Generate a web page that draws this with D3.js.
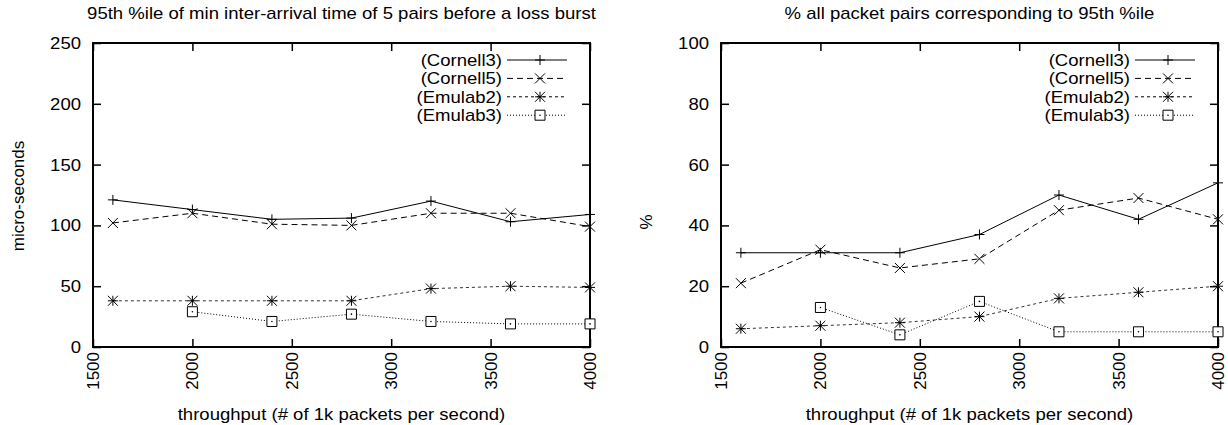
<!DOCTYPE html>
<html><head><meta charset="utf-8">
<script src="https://cdn.jsdelivr.net/npm/d3@7"></script>
<style>
body{margin:0;background:#fff;}
text{font-family:"Liberation Sans",Arial,Helvetica,sans-serif;fill:#000;}
</style></head>
<body><svg id="c" width="1228" height="425"></svg>
<script>
const throughput = [1600, 2000, 2400, 2800, 3200, 3600, 4000];
const seriesNames = ["(Cornell3)", "(Cornell5)", "(Emulab2)", "(Emulab3)"];
// left panel: micro-seconds
const leftCornell3 = [121, 113, 105, 106, 120, 103, 109];
const leftCornell5 = [102, 110, 101, 100, 110, 110, 99];
const leftEmulab2  = [38, 38, 38, 38, 48, 50, 49];
const leftEmulab3  = [null, 29, 21, 27, 21, 19, 19];
// right panel: percent
const rightCornell3 = [31, 31, 31, 37, 50, 42, 54];
const rightCornell5 = [21, 32, 26, 29, 45, 49, 42];
const rightEmulab2  = [6, 7, 8, 10, 16, 18, 20];
const rightEmulab3  = [null, 13, 4, 15, 5, 5, 5];
const xTicks = [1500, 2000, 2500, 3000, 3500, 4000];
const leftYTicks = [0, 50, 100, 150, 200, 250];
const rightYTicks = [0, 20, 40, 60, 80, 100];

const svg = d3.select("#c");
const FS = 17;
const styles = [
  {dash:null, marker:"plus"},
  {dash:"6,4", marker:"cross"},
  {dash:"3,3", marker:"star"},
  {dash:"1,2", marker:"square"}
];

function marker(g, type, x, y) {
  const s = 5;
  const p = d3.path();
  if (type === "plus" || type === "star") {
    p.moveTo(x - s, y); p.lineTo(x + s, y);
    p.moveTo(x, y - s); p.lineTo(x, y + s);
  }
  if (type === "cross" || type === "star") {
    p.moveTo(x - s, y - s); p.lineTo(x + s, y + s);
    p.moveTo(x - s, y + s); p.lineTo(x + s, y - s);
  }
  if (type === "square") {
    p.rect(x - s, y - s, 2 * s, 2 * s);
  }
  g.append("path").attr("d", p.toString()).attr("fill", type === "square" ? "#fff" : "none")
    .attr("stroke", "#000").attr("stroke-width", 1);
  if (type === "square") {
    g.append("circle").attr("cx", x).attr("cy", y).attr("r", 0.8).attr("fill", "#000");
  }
}

function panel(opt) {
  const {x0, x1, y0, y1, yDomain, yTicks, data, title, ylabel, ylabelX, ylabelY} = opt;
  const g = svg.append("g");
  const x = d3.scaleLinear().domain([1500, 4000]).range([x0, x1]);
  const y = d3.scaleLinear().domain(yDomain).range([y1, y0]);
  const tl = 8;

  const bottom = g.append("g").attr("transform", `translate(0,${y1})`)
    .call(d3.axisBottom(x).tickValues(xTicks).tickSize(-tl).tickFormat(""));
  const top = g.append("g").attr("transform", `translate(0,${y0})`)
    .call(d3.axisTop(x).tickValues(xTicks).tickSize(-tl).tickFormat(""));
  const left = g.append("g").attr("transform", `translate(${x0},0)`)
    .call(d3.axisLeft(y).tickValues(yTicks).tickSize(-tl).tickPadding(12));
  const right = g.append("g").attr("transform", `translate(${x1},0)`)
    .call(d3.axisRight(y).tickValues(yTicks).tickSize(-tl).tickFormat(""));
  [bottom, top, left, right].forEach(a => {
    a.select(".domain").remove();
    a.selectAll("line").attr("stroke", "#000").attr("stroke-width", 1.5);
  });
  left.selectAll("text").attr("font-size", FS).attr("font-family", "Liberation Sans, Arial, sans-serif")
    .attr("fill", "#000").classed("hz", true);
  g.selectAll(".xl").data(xTicks).enter().append("text")
    .attr("transform", d => `translate(${x(d)},${y1 + 5}) rotate(-90)`)
    .attr("text-anchor", "end").attr("dy", "0.35em").attr("font-size", FS)
    .text(d => d);

  g.append("rect").attr("x", x0).attr("y", y0).attr("width", x1 - x0).attr("height", y1 - y0)
    .attr("fill", "none").attr("stroke", "#000").attr("stroke-width", 2);

  data.forEach((vals, i) => {
    const pts = throughput.map((t, k) => [t, vals[k]]).filter(d => d[1] !== null);
    const line = d3.line().x(d => x(d[0])).y(d => y(d[1]));
    g.append("path").attr("d", line(pts)).attr("fill", "none").attr("stroke", i === 2 ? "#333" : "#000")
      .attr("stroke-width", 1).attr("stroke-dasharray", styles[i].dash);
    pts.forEach(d => marker(g, styles[i].marker, x(d[0]), y(d[1])));
  });

  const lx = x1 - 23;
  seriesNames.forEach((n, i) => {
    const ly = y0 + 17 + i * 18.4;
    g.append("text").attr("class", "hz").attr("x", lx - 65).attr("y", ly).attr("dy", "0.35em")
      .attr("text-anchor", "end").attr("font-size", FS).text(n);
    g.append("line").attr("x1", lx - 60).attr("x2", lx).attr("y1", ly).attr("y2", ly)
      .attr("stroke", "#000").attr("stroke-width", 1).attr("stroke-dasharray", styles[i].dash);
    marker(g, styles[i].marker, lx - 27, ly);
  });

  svg.append("text").attr("class", "hz").attr("x", (x0 + x1) / 2).attr("y", 19).attr("text-anchor", "middle")
    .attr("font-size", FS).text(title);
  svg.append("text").attr("class", "hz").attr("x", (x0 + x1) / 2).attr("y", 420).attr("text-anchor", "middle")
    .attr("font-size", FS).text("throughput (# of 1k packets per second)");
  svg.append("text").attr("transform", `translate(${ylabelX},${ylabelY}) rotate(-90)`)
    .attr("text-anchor", "middle").attr("dy", "0.35em").attr("font-size", FS).text(ylabel);
}

panel({x0: 93, x1: 590, y0: 43, y1: 347, yDomain: [0, 250], yTicks: leftYTicks,
  data: [leftCornell3, leftCornell5, leftEmulab2, leftEmulab3],
  title: "95th %ile of min inter-arrival time of 5 pairs before a loss burst",
  ylabel: "micro-seconds", ylabelX: 18, ylabelY: 196});
panel({x0: 721, x1: 1218, y0: 43, y1: 347, yDomain: [0, 100], yTicks: rightYTicks,
  data: [rightCornell3, rightCornell5, rightEmulab2, rightEmulab3],
  title: "% all packet pairs corresponding to 95th %ile",
  ylabel: "%", ylabelX: 646, ylabelY: 222});

// reference text is slightly wider than the font's natural width
svg.selectAll("text.hz").each(function() {
  const w = this.getComputedTextLength();
  d3.select(this).attr("textLength", w * 1.09).attr("lengthAdjust", "spacingAndGlyphs");
});
</script></body></html>
